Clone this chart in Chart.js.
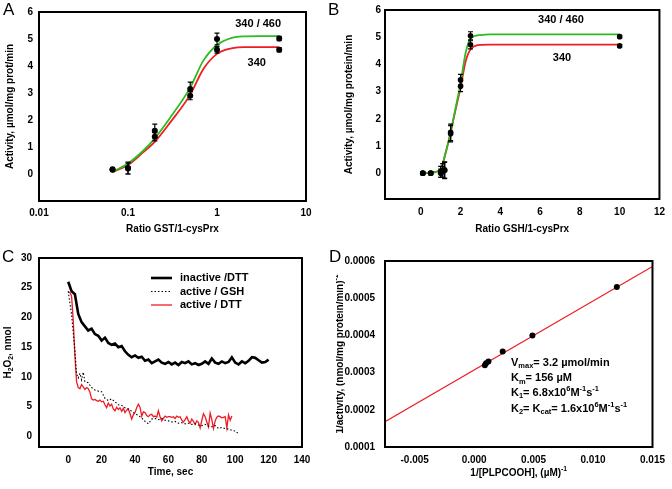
<!DOCTYPE html>
<html>
<head>
<meta charset="utf-8">
<script src="https://cdn.jsdelivr.net/npm/chart.js@4.4.1/dist/chart.umd.min.js"></script>
<style>
  body { margin: 0; background: #fff; }
  #fig { position: relative; width: 672px; height: 489px; font-family: "Liberation Sans", Arial, sans-serif; }
  .panel { position: absolute; }
  .tag { position: absolute; font-size: 17px; line-height: 1; color: #000; }
</style>
</head>
<body>
<div id="fig">
  <canvas id="chartA" class="panel" width="336" height="245" style="left:0;top:0"></canvas>
  <canvas id="chartB" class="panel" width="336" height="245" style="left:336px;top:0"></canvas>
  <canvas id="chartC" class="panel" width="336" height="244" style="left:0;top:245px"></canvas>
  <canvas id="chartD" class="panel" width="336" height="244" style="left:336px;top:245px"></canvas>
  <div class="tag" style="left:3px;top:1px">A</div>
  <div class="tag" style="left:328px;top:1px">B</div>
  <div class="tag" style="left:2px;top:248px">C</div>
  <div class="tag" style="left:329px;top:248px">D</div>
</div>
<script>
// Panel A: activity vs GST/1-cysPrx ratio (log axis)
const gstRatio = [0.067, 0.1, 0.2, 0.5, 1, 5];
const gstAct340460 = [0.18, 0.22, 1.6, 3.15, 5.0, 5.02];
const gstErr340460 = [0.05, 0.22, 0.25, 0.25, 0.22, 0.08];
const gstAct340 = [0.16, 0.2, 1.38, 2.9, 4.6, 4.6];
const gstErr340 = [0.05, 0.2, 0.15, 0.15, 0.12, 0.08];
const gstFitX = [0.067, 0.1, 0.15, 0.2, 0.3, 0.5, 0.7, 1, 1.5, 2, 3, 5];
const gstFit340460 = [0.08, 0.39, 0.88, 1.32, 2.1, 3.2, 4.19, 4.78, 5.05, 5.1, 5.11, 5.11];
const gstFit340 = [0.07, 0.33, 0.82, 1.19, 1.92, 2.94, 3.88, 4.45, 4.66, 4.7, 4.7, 4.7];
const ticksAx = [0.01, 0.1, 1, 10];
const ticksAy = [0, 1, 2, 3, 4, 5, 6];

// Panel B: activity vs GSH/1-cysPrx ratio
const gshRatio = [0.1, 0.5, 1.0, 1.1, 1.2, 1.5, 2.0, 2.5, 10];
const gshAct340460 = [0, 0, 0.05, 0.1, 0.12, 1.5, 3.43, 5.05, 5.02];
const gshErr340460 = [0.05, 0.05, 0.2, 0.25, 0.3, 0.3, 0.2, 0.15, 0.05];
const gshAct340 = [0, 0, 0, 0.05, 0.1, 1.45, 3.2, 4.72, 4.68];
const gshErr340 = [0.05, 0.05, 0.15, 0.2, 0.3, 0.3, 0.2, 0.15, 0.05];
const gshFitX = [0.1, 0.5, 1.0, 1.25, 1.5, 1.75, 2.0, 2.25, 2.5, 3, 3.5, 4, 10];
const gshFit340460 = [0, 0.02, 0.15, 0.75, 1.5, 2.4, 3.3, 4.41, 4.95, 5.08, 5.1, 5.1, 5.1];
const gshFit340 = [0, 0.02, 0.15, 0.75, 1.5, 2.34, 3.15, 4.1, 4.55, 4.72, 4.73, 4.73, 4.73];
const ticksBx = [0, 2, 4, 6, 8, 10, 12];
const ticksBy = [0, 1, 2, 3, 4, 5, 6];

// Panel C: H2O2 consumption over time
const timeInactive = [0, 2, 4, 6, 8, 10, 12, 14, 16, 18, 20, 22, 24, 26, 28, 30, 32, 34, 36, 38, 40,
  42, 44, 46, 48, 50, 52, 54, 56, 58, 60, 62, 64, 66, 68, 70, 72, 74, 76, 78, 80,
  82, 84, 86, 88, 90, 92, 94, 96, 98, 100, 102, 104, 106, 108, 110, 112, 114, 116, 118, 120];
const h2o2Inactive = [26.0, 24.4, 23.9, 20.6, 19.2, 18.5, 17.8, 18.1, 17.2, 16.9, 16.1, 16.6, 15.7, 15.4, 15.6, 15.0, 15.2, 14.3, 13.7, 13.3, 13.6,
  13.2, 13.4, 12.7, 12.9, 12.3, 12.6, 12.9, 12.4, 12.2, 12.5, 12.1, 12.4, 12.0, 12.5, 12.3, 12.6, 12.1, 12.3, 12.0, 12.2,
  12.6, 12.2, 13.1, 12.4, 12.2, 12.6, 12.3, 12.5, 13.3, 12.4, 12.1, 12.6, 12.3, 12.7, 13.3, 13.2, 12.8, 12.4, 12.5, 12.9];
const timeGSH = [0, 2, 4, 5, 6, 7, 8, 9, 10, 12, 14, 16, 18, 20, 22, 24, 26, 28, 30, 32, 34, 36, 38, 40,
  42, 44, 46, 48, 50, 52, 54, 56, 58, 60, 62, 64, 66, 68, 70, 72, 74, 76, 78, 80,
  82, 84, 86, 88, 90, 92, 94, 96, 98, 100, 102];
const h2o2GSH = [24.4, 20.5, 14.5, 10.5, 9.8, 10.6, 9.5, 10.8, 9.2, 9.0, 8.2, 7.8, 7.6, 7.5, 6.4, 6.0, 6.3, 5.8, 5.3, 5.2, 4.8, 4.6, 4.2, 3.8,
  3.5, 3.1, 2.5, 2.1, 2.9, 3.0, 2.8, 3.0, 2.7, 2.6, 2.4, 2.5, 2.2, 2.3, 2.1, 2.2, 2.0, 2.1, 1.9, 1.8,
  2.0, 1.7, 1.6, 1.8, 1.3, 1.5, 1.3, 1.2, 1.0, 0.9, 0.4];
const timeDTT = [0, 1, 2, 3, 4, 5, 6, 7, 8, 9, 10, 11, 12, 13, 14, 15, 16, 17, 18, 19, 20,
  21, 22, 23, 24, 25, 26, 27, 28, 29, 30, 31, 32, 33, 34, 35, 36, 37, 38, 39, 40,
  41, 42, 43, 44, 45, 46, 47, 48, 49, 50, 51, 52, 53, 54, 55, 56, 57, 58, 59, 60,
  61, 62, 63, 64, 65, 66, 67, 68, 69, 70, 71, 72, 73, 74, 75, 76, 77, 78, 79, 80,
  81, 82, 83, 84, 85, 86, 87, 88, 89, 90, 91, 92, 93, 94, 95, 96, 97, 98];
const h2o2DTT = [24.3, 24.2, 23.6, 19.5, 13.5, 9.2, 8.2, 8.0, 8.7, 8.3, 7.9, 8.2, 8.0, 7.4, 6.3, 6.1, 6.2, 6.0, 5.9, 6.1, 5.8,
  5.9, 5.3, 4.8, 5.6, 5.1, 5.4, 4.6, 4.3, 4.9, 4.5, 4.8, 4.2, 4.7, 4.0, 4.4, 4.6, 3.8, 2.9, 3.6, 4.0,
  4.8, 5.4, 4.9, 3.4, 4.1, 4.0, 3.5, 3.3, 3.6, 3.7, 3.3, 3.4, 3.2, 4.3, 3.3, 2.6, 3.0, 3.4, 3.2, 3.3,
  3.3, 3.2, 3.3, 3.0, 3.4, 3.2, 3.3, 2.7, 2.4, 2.8, 3.3, 2.6, 2.2, 2.9, 2.5, 2.0, 2.6, 2.3, 1.4, 2.7,
  3.8, 3.3, 2.4, 1.6, 3.9, 2.8, 1.3, 2.6, 3.2, 3.4, 3.3, 3.1, 3.2, 3.3, 1.4, 3.6, 2.7, 3.4];
const ticksCx = [0, 20, 40, 60, 80, 100, 120, 140];
const ticksCy = [0, 5, 10, 15, 20, 25, 30];

// Panel D: double reciprocal plot
const invSubstrate = [0.0009, 0.001, 0.0012, 0.0024, 0.0049, 0.012];
const invActivity = [0.00032, 0.000325, 0.00033, 0.000357, 0.0004, 0.00053];
const fitDx = [-0.0075, 0.015];
const fitDy = [0.000168, 0.000585];
const ticksDx = [-0.005, 0, 0.005, 0.01, 0.015];
const ticksDy = [0.0001, 0.0002, 0.0003, 0.0004, 0.0005, 0.0006];

const FONT = '"Liberation Sans", Arial, sans-serif';
const GREEN = '#2dbb1f';
const RED = '#ee1c24';

function pts(xs, ys) {
  return xs.map((x, i) => ({ x: x, y: ys[i] }));
}

function dots(xs, ys, errs, r) {
  return {
    data: pts(xs, ys), errors: errs,
    pointRadius: r, pointBorderWidth: 0,
    pointBackgroundColor: '#000', pointBorderColor: '#000', showLine: false
  };
}

function curve(xs, ys, color, extra) {
  return Object.assign({
    data: pts(xs, ys), showLine: true, pointRadius: 0,
    borderColor: color, borderWidth: 1.8, fill: false,
    cubicInterpolationMode: 'monotone'
  }, extra || {});
}

function axis(o) {
  return {
    type: o.type || 'linear',
    min: o.min, max: o.max,
    grid: { display: false, drawTicks: false },
    border: { display: false },
    title: { display: false },
    ticks: {
      color: '#000', padding: o.pad, autoSkip: false, maxRotation: 0,
      font: { family: FONT, size: 10, weight: 'bold' },
      callback: o.fmt || (v => String(v))
    },
    afterBuildTicks: s => { s.ticks = o.ticks.map(v => ({ value: v })); },
    afterFit: s => {
      if (o.width != null) s.width = o.width;
      if (o.height != null) s.height = o.height;
    }
  };
}

function base(pad, x, y) {
  return {
    responsive: false,
    animation: false,
    events: [],
    layout: { padding: { top: pad.top, right: pad.right, left: 0, bottom: 0 } },
    plugins: { legend: { display: false }, tooltip: { enabled: false } },
    scales: { x: x, y: y }
  };
}

// vertical error bars from dataset.errors
const errorBars = {
  id: 'errorBars',
  afterDatasetsDraw(chart) {
    const { ctx, scales: { x, y } } = chart;
    chart.data.datasets.forEach(ds => {
      if (!ds.errors) return;
      ctx.save();
      ctx.strokeStyle = '#000';
      ctx.lineWidth = 1.2;
      ds.data.forEach((p, i) => {
        const e = ds.errors[i];
        if (!e) return;
        const px = x.getPixelForValue(p.x);
        const top = y.getPixelForValue(p.y + e);
        const bot = y.getPixelForValue(p.y - e);
        ctx.beginPath();
        ctx.moveTo(px, top); ctx.lineTo(px, bot);
        ctx.moveTo(px - 2.5, top); ctx.lineTo(px + 2.5, top);
        ctx.moveTo(px - 2.5, bot); ctx.lineTo(px + 2.5, bot);
        ctx.stroke();
      });
      ctx.restore();
    });
  }
};

// black box round the plot area
const frame = {
  id: 'frame',
  afterDraw(chart) {
    const { ctx, chartArea: a } = chart;
    ctx.save();
    ctx.strokeStyle = '#000';
    ctx.lineWidth = 2;
    ctx.strokeRect(a.left, a.top, a.right - a.left, a.bottom - a.top);
    ctx.restore();
  }
};

// text with sub / superscripts, anchored at current origin
function drawParts(ctx, parts, size, align) {
  const fonts = parts.map(p => 'bold ' + (p[1] ? size * 0.68 : size) + 'px ' + FONT);
  let w = 0;
  parts.forEach((p, i) => { ctx.font = fonts[i]; w += ctx.measureText(p[0]).width; });
  let x = align === 'left' ? 0 : -w / 2;
  parts.forEach((p, i) => {
    ctx.font = fonts[i];
    const dy = p[1] === 'sub' ? size * 0.3 : p[1] === 'sup' ? -size * 0.38 : 0;
    ctx.fillText(p[0], x, dy);
    x += ctx.measureText(p[0]).width;
  });
}

function texts(items) {
  return {
    id: 'texts',
    afterDraw(chart) {
      const { ctx, chartArea: a, scales } = chart;
      items.forEach(it => {
        let x, y;
        if (it.data) {
          x = scales.x.getPixelForValue(it.data[0]);
          y = scales.y.getPixelForValue(it.data[1]);
        } else {
          x = it.at[0] === 'mid' ? (a.left + a.right) / 2 : it.at[0];
          y = it.at[1] === 'mid' ? (a.top + a.bottom) / 2 : it.at[1];
        }
        ctx.save();
        ctx.translate(x, y);
        if (it.rotate) ctx.rotate(-Math.PI / 2);
        ctx.fillStyle = '#000';
        ctx.textBaseline = 'middle';
        ctx.textAlign = 'left';
        drawParts(ctx, it.parts, it.size || 10, it.align);
        ctx.restore();
      });
    }
  };
}

// legend for panel C, drawn inside the plot
const lineKey = {
  id: 'lineKey',
  afterDraw(chart) {
    const ctx = chart.ctx;
    chart.data.datasets.forEach((ds, i) => {
      const y = 33 + i * 13.5;
      ctx.save();
      ctx.strokeStyle = ds.borderColor;
      ctx.lineWidth = ds.borderWidth;
      ctx.setLineDash(ds.borderDash || []);
      ctx.beginPath();
      ctx.moveTo(151, y); ctx.lineTo(172, y);
      ctx.stroke();
      ctx.fillStyle = '#000';
      ctx.font = 'bold 11px ' + FONT;
      ctx.textBaseline = 'middle';
      ctx.fillText(ds.label, 180, y);
      ctx.restore();
    });
  }
};

// Panel A
new Chart(document.getElementById('chartA'), {
  type: 'scatter',
  data: {
    datasets: [
      dots(gstRatio, gstAct340460, gstErr340460, 3),
      dots(gstRatio, gstAct340, gstErr340, 3),
      curve(gstFitX, gstFit340460, GREEN),
      curve(gstFitX, gstFit340, RED)
    ]
  },
  options: base({ top: 11, right: 30 },
    axis({ type: 'logarithmic', min: 0.01, max: 10, ticks: ticksAx, pad: 6, height: 44 }),
    axis({ min: -1, max: 6, ticks: ticksAy, pad: 6, width: 39 })),
  plugins: [errorBars, frame, texts([
    { parts: [['340 / 460']], data: [2.9, 5.56], size: 11 },
    { parts: [['340']], data: [2.8, 4.12], size: 11 },
    { parts: [['Ratio GST/1-cysPrx']], at: ['mid', 229] },
    { parts: [['Activity, µmol/mg prot/min']], at: [10, 'mid'], rotate: true }
  ])]
});

// Panel B
new Chart(document.getElementById('chartB'), {
  type: 'scatter',
  data: {
    datasets: [
      dots(gshRatio, gshAct340460, gshErr340460, 2.8),
      dots(gshRatio, gshAct340, gshErr340, 2.8),
      curve(gshFitX, gshFit340460, GREEN),
      curve(gshFitX, gshFit340, RED)
    ]
  },
  options: base({ top: 7, right: 11 },
    axis({ min: -1.8, max: 12, ticks: ticksBx, pad: 7, height: 46 }),
    axis({ min: -0.95, max: 6, ticks: ticksBy, pad: 4, width: 49 })),
  plugins: [errorBars, frame, texts([
    { parts: [['340 / 460']], data: [7.05, 5.64], size: 11 },
    { parts: [['340']], data: [7.1, 4.23], size: 11 },
    { parts: [['Ratio GSH/1-cysPrx']], at: ['mid', 229] },
    { parts: [['Activity, µmol/mg protein/min']], at: [13, 'mid'], rotate: true }
  ])]
});

// Panel C
new Chart(document.getElementById('chartC'), {
  type: 'scatter',
  data: {
    datasets: [
      curve(timeInactive, h2o2Inactive, '#000', { label: 'inactive /DTT', borderWidth: 2.6, cubicInterpolationMode: 'default' }),
      curve(timeGSH, h2o2GSH, '#000', { label: 'active / GSH', borderWidth: 1.1, borderDash: [1.5, 2], cubicInterpolationMode: 'default' }),
      curve(timeDTT, h2o2DTT, RED, { label: 'active / DTT', borderWidth: 1.3, cubicInterpolationMode: 'default' })
    ]
  },
  options: base({ top: 9, right: 34 },
    axis({ min: -17.5, max: 140, ticks: ticksCx, pad: 7, height: 42 }),
    axis({ min: -1.8, max: 30, ticks: ticksCy, pad: 7, width: 39 })),
  plugins: [frame, lineKey, texts([
    { parts: [['Time, sec']], at: ['mid', 227] },
    { parts: [['H'], ['2', 'sub'], ['O'], ['2', 'sub'], [', nmol']], at: [8, 'mid'], rotate: true }
  ])]
});

// Panel D
new Chart(document.getElementById('chartD'), {
  type: 'scatter',
  data: {
    datasets: [
      dots(invSubstrate, invActivity, null, 3),
      curve(fitDx, fitDy, RED, { borderWidth: 1.1, cubicInterpolationMode: 'default' })
    ]
  },
  options: base({ top: 12, right: 14 },
    axis({ min: -0.0075, max: 0.015, ticks: ticksDx, pad: 7, height: 42, fmt: v => v.toFixed(3) }),
    axis({ min: 0.0001, max: 0.0006, ticks: ticksDy, pad: 10, width: 49, fmt: v => v.toFixed(4) })),
  plugins: [frame, texts([
    { parts: [['V'], ['max', 'sub'], ['= 3.2 µmol/min']], data: [0.0031, 0.000326], size: 11, align: 'left' },
    { parts: [['K'], ['m', 'sub'], ['= 156 µM']], data: [0.0031, 0.000285], size: 11, align: 'left' },
    { parts: [['K'], ['1', 'sub'], ['= 6.8x10'], ['6', 'sup'], ['M'], ['-1', 'sup'], ['s'], ['-1', 'sup']], data: [0.0031, 0.000246], size: 11, align: 'left' },
    { parts: [['K'], ['2', 'sub'], ['= K'], ['cat', 'sub'], ['= 1.6x10'], ['6', 'sup'], ['M'], ['-1', 'sup'], ['s'], ['-1', 'sup']], data: [0.0031, 0.000202], size: 11, align: 'left' },
    { parts: [['1/[PLPCOOH], (µM)'], ['-1', 'sup']], at: ['mid', 228] },
    { parts: [['1/activity, (nmol/mg protein/min)'], ['-1', 'sup']], at: [4, 'mid'], rotate: true }
  ])]
});
</script>
</body>
</html>
